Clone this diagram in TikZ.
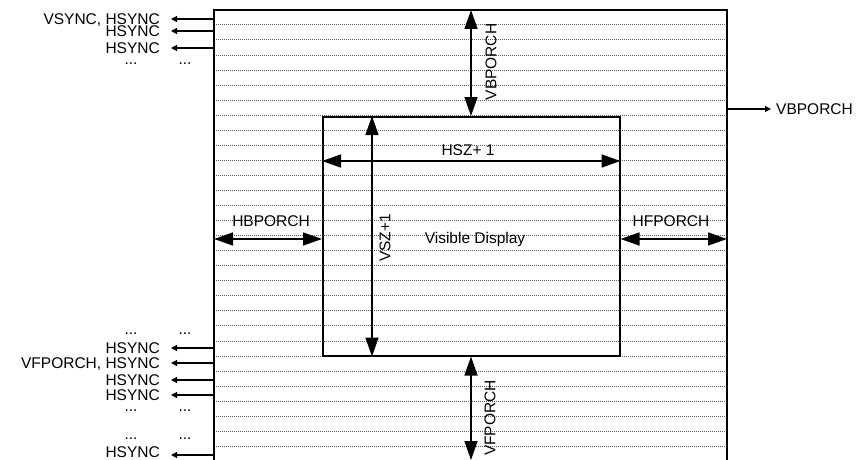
\documentclass[tikz,border=0pt]{standalone}
\usepackage{fontspec}
\setmainfont{Liberation Sans}
\usetikzlibrary{arrows.meta}
\begin{document}
\begin{tikzpicture}[x=1pt,y=-1pt,
  lbl/.style={font=\fontsize{15.5}{15.5}\selectfont, inner sep=0pt},
  boxline/.style={draw=black, line width=1.5pt},
  bigarrow/.style={line width=1.5pt, {Triangle[length=19pt,width=13pt]}-{Triangle[length=19pt,width=13pt]}},
  smallarrow/.style={line width=1.1pt, -{Triangle[length=6pt,width=6pt]}},
  gridline/.style={gray!75!black, line width=0.5pt, dash pattern=on 0.8pt off 1.2pt}]

\clip (0,0) rectangle (856,460);
\fill[white] (0,0) rectangle (856,460);

% dotted scan lines
\foreach \k in {0,...,28}
  \draw[gridline] (214,{24.7+15.05*\k}) -- (727,{24.7+15.05*\k});

% outer frame (bottom edge beyond picture)
\coordinate (oL) at (214,10);
\coordinate (oR) at (727,10);
\draw[boxline, line width=1.3pt] (oL |- 0,465) -- (oL) -- (oR) -- (oR |- 0,465);

% inner visible box
\node[boxline, minimum width=297pt, minimum height=239pt, inner sep=0pt,
      anchor=north west] (inner) at (322,116) {};

% vertical porch arrows
\coordinate (vx) at (471,0);
\draw[bigarrow] (vx |- oL) -- (vx |- inner.north);
\coordinate (vfB) at (471,460);
\draw[bigarrow] (vx |- inner.south) -- (vfB);

% HSZ+1 and VSZ+1
\coordinate (hsz) at (0,161);
\draw[bigarrow] (inner.west |- hsz) -- (inner.east |- hsz);
\coordinate (vsz) at (372,0);
\draw[bigarrow] (vsz |- inner.north) -- (vsz |- inner.south);

% horizontal porch arrows
\coordinate (hp) at (0,239);
\draw[bigarrow] (oL |- hp) -- (inner.west |- hp);
\draw[bigarrow] (inner.east |- hp) -- (oR |- hp);

% labels
\node[lbl, rotate=90] (vbl) at (491,62) {VBPORCH};
\node[lbl, rotate=90] (vfl) at (490,418) {VFPORCH};
\node[lbl, rotate=90] (vszl) at (385,238) {VSZ+1};
\node[lbl] (hszl) at (468,150) {HSZ+ 1};
\node[lbl] (hbl) at (271,221) {HBPORCH};
\node[lbl] (hfl) at (671,221) {HFPORCH};
\node[lbl] (vis) at (475,239) {Visible Display};

% right output
\node[lbl, anchor=base west] (rout) at (776,114.5) {VBPORCH};
\coordinate (rr) at (0,109);
\draw[smallarrow] (oR |- rr) -- ([xshift=-5pt]rout.west |- rr);

% left outputs
\foreach \y/\b/\t in {19/24.5/{VSYNC, HSYNC}, 31/36.5/HSYNC, 48/53.5/HSYNC, 348/353.5/HSYNC, 363/368.5/{VFPORCH, HSYNC}, 380/385.5/HSYNC, 395/400.5/HSYNC, 455/457.5/HSYNC}{
  \node[lbl, anchor=base east] (L\y) at (160,\b) {\t};
  \coordinate (R\y) at (0,\y);
  \draw[smallarrow] (oL |- R\y) -- ([xshift=11pt]L\y.east |- R\y);
}

% ellipses
\foreach \y in {63,333,410,438}{
  \node[lbl, anchor=base] (da\y) at (131,\y+1.2) {...};
  \node[lbl, anchor=base] (db\y) at (185,\y+1.2) {...};
}
\end{tikzpicture}
\end{document}
